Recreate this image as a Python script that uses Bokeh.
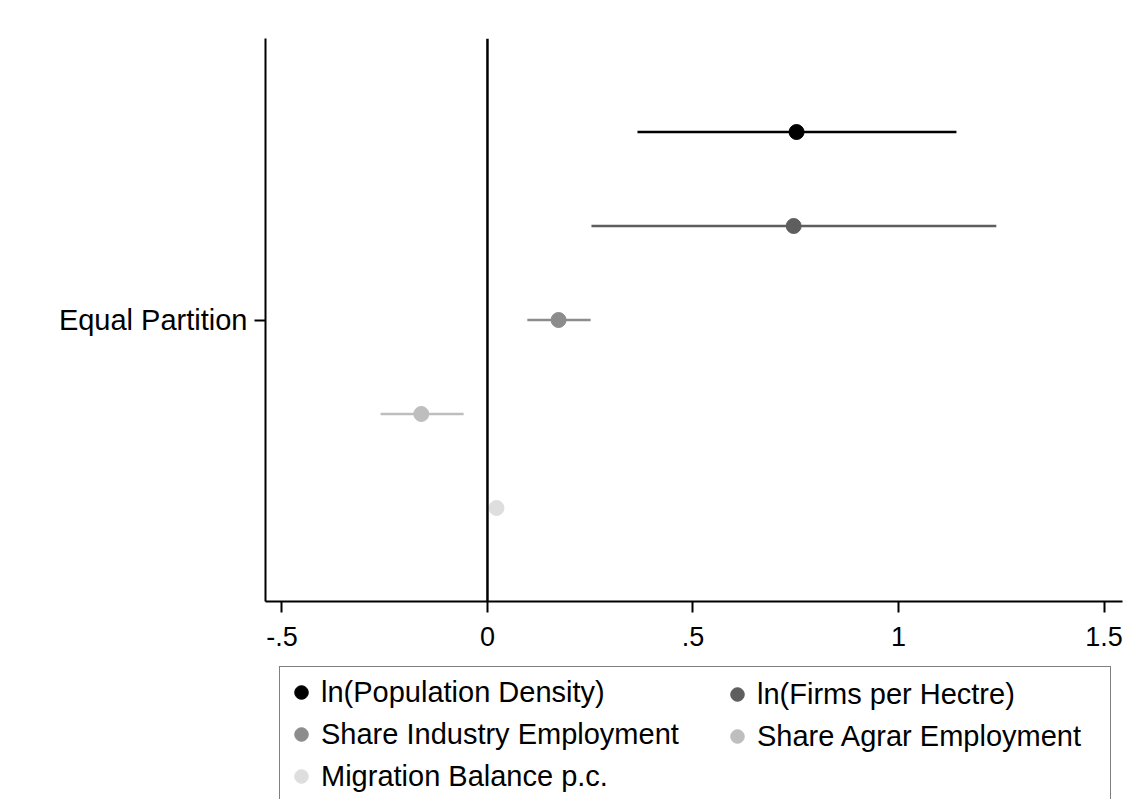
from bokeh.plotting import figure
from bokeh.layouts import column
from bokeh.models import FactorRange, Span, Legend, LegendItem, FixedTicker, ColumnDataSource
from bokeh.transform import dodge
from bokeh.embed import file_html
from bokeh.resources import INLINE

category = ["Equal Partition"]
series = ["ln(Population Density)", "ln(Firms per Hectre)", "Share Industry Employment",
          "Share Agrar Employment", "Migration Balance p.c."]
coef = [0.752, 0.745, 0.173, -0.161, 0.022]
ci_low = [0.365, 0.253, 0.097, -0.260, 0.014]
ci_high = [1.141, 1.238, 0.251, -0.058, 0.030]
x_ticks = [-0.5, 0, 0.5, 1, 1.5]
x_tick_labels = ["-.5", "0", ".5", "1", "1.5"]

colors = ["#000000", "#5e5e5e", "#8c8c8c", "#bebebe", "#dedede"]
FONT = "Liberation Sans"

p = figure(width=1132, height=660,
           x_range=(-0.54, 1.545),
           y_range=FactorRange(factors=category, range_padding=0.198),
           output_backend="svg", toolbar_location=None,
           min_border_left=265, min_border_right=10, min_border_top=38, min_border_bottom=59)
p.outline_line_color = None
p.xgrid.visible = False
p.ygrid.visible = False

p.add_layout(Span(location=0, dimension="height", line_color="black", line_width=2.5))

n = len(series)
for i, name in enumerate(series):
    src = ColumnDataSource(dict(cat=category, coef=[coef[i]], lo=[ci_low[i]], hi=[ci_high[i]]))
    off = ((n - 1) / 2 - i) * 0.2
    ypos = dodge("cat", off, range=p.y_range)
    p.segment(x0="lo", x1="hi", y0=ypos, y1=ypos, source=src, line_color=colors[i], line_width=2.5)
    p.scatter(x="coef", y=ypos, source=src, size=15, fill_color=colors[i], line_color=colors[i])

# axes
p.xaxis.ticker = FixedTicker(ticks=x_ticks)
p.xaxis.major_label_overrides = {t: l for t, l in zip(x_ticks, x_tick_labels)}
for ax in (p.xaxis, p.yaxis):
    ax.axis_line_color = "black"
    ax.axis_line_width = 2
    ax.major_tick_line_color = "black"
    ax.major_tick_line_width = 2
    ax.major_tick_in = 0
    ax.major_tick_out = 11
    ax.minor_tick_line_color = None
    ax.major_label_text_font = FONT
    ax.major_label_text_color = "black"
p.xaxis.major_label_text_font_size = "27px"
p.xaxis.major_label_standoff = 14
p.yaxis.major_label_text_font_size = "29px"
p.yaxis.major_label_standoff = 7

# legend panel (separate figure below the plot; its frame is aligned with the plot's frame)
lg = figure(width=1132, height=139, x_range=(5, 6), y_range=(5, 6),
            output_backend="svg", toolbar_location=None,
            x_axis_location=None, y_axis_location=None,
            min_border_left=265, min_border_right=10, min_border_top=0, min_border_bottom=0)
lg.outline_line_color = None
lg.xgrid.visible = False
lg.ygrid.visible = False

# proxy renderers (their points lie outside the legend panel's ranges)
leg_renderers = []
for i, name in enumerate(series):
    r = lg.scatter(x=[coef[i]], y=[coef[i]], size=15, fill_color=colors[i], line_color=colors[i])
    leg_renderers.append(r)

common = dict(label_text_font=FONT, label_text_font_size="29px", label_text_color="black",
              glyph_width=34, glyph_height=42, label_standoff=3, padding=4, spacing=0, margin=0)

left_idx = [0, 2, 4]
right_idx = [1, 3]
leg_a = Legend(items=[LegendItem(label=series[i], renderers=[leg_renderers[i]]) for i in left_idx],
               location=(14, -3), border_line_color="black", border_line_width=1.5,
               label_width=785, **common)
leg_b = Legend(items=[LegendItem(label=series[i], renderers=[leg_renderers[i]]) for i in right_idx],
               location=(455, 42), border_line_color=None, background_fill_alpha=0, **common)
lg.add_layout(leg_a)
lg.add_layout(leg_b)

layout = column(p, lg, spacing=0)
open("out.html", "w").write(file_html(layout, INLINE))
